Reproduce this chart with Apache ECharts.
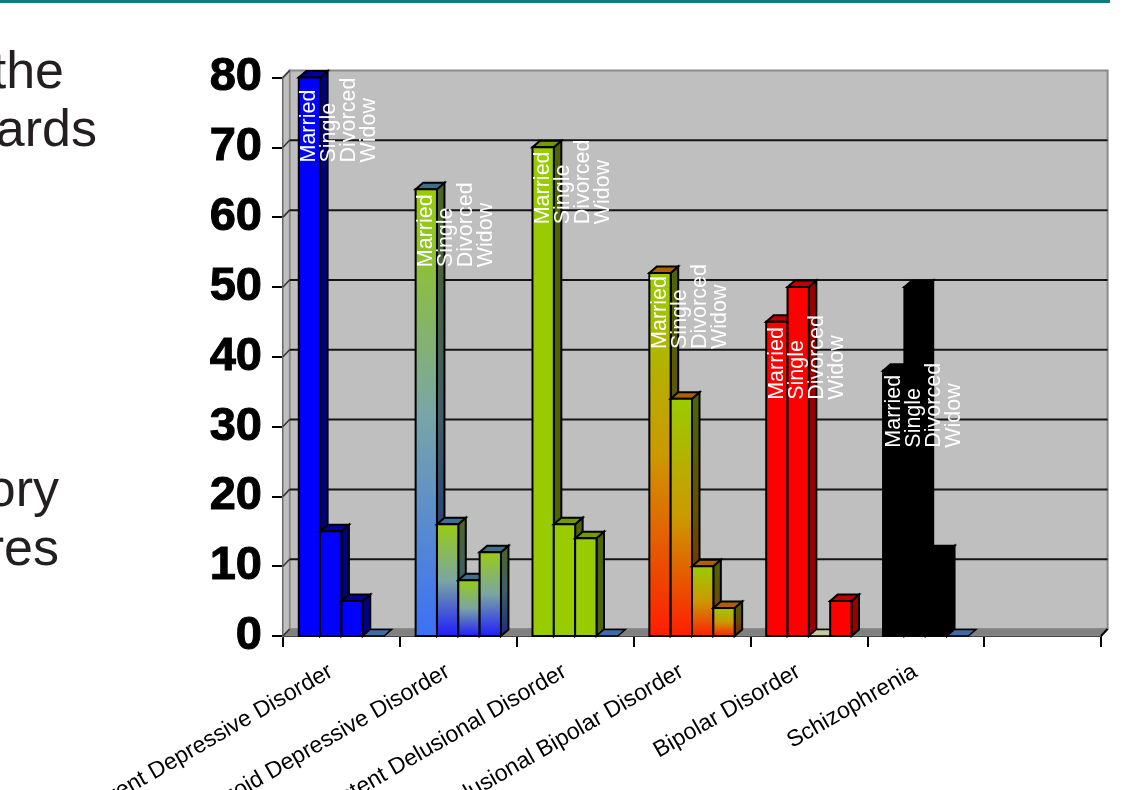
<!DOCTYPE html>
<html>
<head>
<meta charset="utf-8">
<style>
  html, body { margin: 0; padding: 0; background: #fff; overflow: hidden; }
  #chart { width: 1143px; height: 790px; }
</style>
<script src="https://cdn.jsdelivr.net/npm/echarts@6/dist/echarts.min.js"></script>
</head>
<body>
<div id="chart"></div>
<script>
// Diagnosis groups along the category axis (the last slot stays empty).
const categories = [
  'Recurrent Depressive Disorder',
  'Schizoid Depressive Disorder',
  'Persistent Delusional Disorder',
  'Delusional Bipolar Disorder',
  'Bipolar Disorder',
  'Schizophrenia',
  ''
];
const seriesNames = ['Married', 'Single', 'Divorced', 'Widow'];

// Patients per marital status, one entry per diagnosis.
const married  = [80, 64, 70, 52, 45, 38];
const single   = [15, 16, 16, 34, 50, 50];
const divorced = [5, 8, 14, 10, 0, 12];
const widow    = [0, 12, 0, 4, 5, 0];

const yTicks = [0, 10, 20, 30, 40, 50, 60, 70, 80];

// Fill ramps per diagnosis: top, middle, bottom of each bar.
const frontRamps = [
  ['#0000ff', '#0000ff', '#0000ff'],
  ['#99cc11', '#7aa6a2', '#1c1cff'],
  ['#99cc00', '#99cc00', '#99cc00'],
  ['#99cc00', '#cc9900', '#ff1c00'],
  ['#ff0000', '#ff0000', '#ff0000'],
  ['#000000', '#000000', '#000000']
];
const sideRamps = [
  ['#000080', '#000080', '#000080'],
  ['#4d6620', '#3c5f66', '#1a2a80'],
  ['#4d6600', '#4d6600', '#4d6600'],
  ['#4d6600', '#665000', '#802000'],
  ['#990000', '#990000', '#990000'],
  ['#000000', '#000000', '#000000']
];
const capColors = ['#000099', '#3f6f8c', '#739900', '#b06000', '#c00000', '#000000'];
const zeroCapColors = ['#3f6ba8', '#3f6ba8', '#3f6ba8', '#3f6ba8', '#c9c9a0', '#3f6ba8'];
const marriedRamp2 = ['#99cc00', '#78a6a6', '#3a70f8'];

// Plot depth and bar proportions.
const wallDepth = [6.6, -7];
const barDepth = [7.5, -6.5];
const barShare = 0.1825;
const labelDrops = [85, 78, 77, 76, 78, 77];
const labelStep = 20;

const valueRows = [married, single, divorced, widow];
const barData = [];
const labelData = [];
married.forEach(function (_, c) {
  valueRows.forEach(function (row, s) {
    barData.push([c, s, row[c]]);
    labelData.push([c, s, married[c]]);
  });
});

function ramp(colors) {
  return new echarts.graphic.LinearGradient(0, 0, 0, 1, [
    { offset: 0, color: colors[0] },
    { offset: 0.5, color: colors[1] },
    { offset: 1, color: colors[2] }
  ]);
}

function poly(points, fill, stroke, width) {
  return {
    type: 'polygon',
    shape: { points: points },
    style: { fill: fill, stroke: stroke, lineWidth: width, lineJoin: 'miter' }
  };
}

// Draws the three visible faces of one bar from its axis coordinates.
function renderBar(params, api) {
  const c = api.value(0), s = api.value(1), v = api.value(2);
  const base = api.coord([c, 0]);
  const top = api.coord([c, v]);
  const w = api.size([1, 0])[0] * barShare;
  const x0 = base[0] + (s - 2) * w;
  const x1 = x0 + w;
  const dx = barDepth[0], dy = barDepth[1];
  const line = '#000';
  if (v === 0) {
    return poly([[x0, base[1]], [x1, base[1]], [x1 + dx, base[1] + dy], [x0 + dx, base[1] + dy]],
      zeroCapColors[c], line, 1.5);
  }
  const front = (c === 1 && s === 0) ? marriedRamp2 : frontRamps[c];
  return {
    type: 'group',
    children: [
      poly([[x1, top[1]], [x1 + dx, top[1] + dy], [x1 + dx, base[1] + dy], [x1, base[1]]], ramp(sideRamps[c]), line, 2),
      poly([[x0, top[1]], [x1, top[1]], [x1 + dx, top[1] + dy], [x0 + dx, top[1] + dy]], capColors[c], line, 2),
      poly([[x0, top[1]], [x1, top[1]], [x1, base[1]], [x0, base[1]]], ramp(front), line, 2)
    ]
  };
}

// Status names stacked beside each other under the Married bar's top.
function renderLabel(params, api) {
  const c = api.value(0), s = api.value(1), m = api.value(2);
  const base = api.coord([c, 0]);
  const top = api.coord([c, m]);
  const w = api.size([1, 0])[0] * barShare;
  const x = base[0] - 2 * w + w / 2 + s * labelStep;
  return {
    type: 'text',
    x: x,
    y: top[1] + labelDrops[c],
    rotation: Math.PI / 2,
    style: {
      text: seriesNames[s],
      fill: '#fff',
      font: '21.5px "Liberation Sans", Arial, sans-serif',
      textAlign: 'left',
      textVerticalAlign: 'middle'
    }
  };
}

// Back wall, side wall, floor and the gridlines printed on them.
function renderFrame(params, api) {
  const dx = wallDepth[0], dy = wallDepth[1];
  const p0 = api.coord([0, 0]);
  const cs = params.coordSys;
  const left = cs.x, right = cs.x + cs.width;
  const bottom = p0[1], topY = api.coord([0, yTicks[yTicks.length - 1]])[1];
  const kids = [
    poly([[left + dx, topY + dy], [right + dx, topY + dy], [right + dx, bottom + dy], [left + dx, bottom + dy]],
      '#bfbfbf', '#8a8a8a', 2),
    poly([[left, topY], [left + dx, topY + dy], [left + dx, bottom + dy], [left, bottom]], '#bfbfbf', '#8a8a8a', 1.5),
    poly([[left, bottom], [left + dx, bottom + dy], [right + dx, bottom + dy], [right, bottom]], '#808080', '#8a8a8a', 1)
  ];
  yTicks.forEach(function (t) {
    const y = api.coord([0, t])[1];
    if (t !== 0 && t !== yTicks[yTicks.length - 1]) {
      kids.push({
        type: 'line',
        shape: { x1: left + dx, y1: y + dy, x2: right + dx, y2: y + dy },
        style: { stroke: '#141414', lineWidth: 2 }
      });
    }
    kids.push({
      type: 'line',
      shape: { x1: left, y1: y, x2: left + dx, y2: y + dy },
      style: { stroke: '#333', lineWidth: 1.5 }
    });
  });
  kids.push({
    type: 'line',
    shape: { x1: right, y1: bottom, x2: right + dx, y2: bottom + dy },
    style: { stroke: '#000', lineWidth: 2 }
  });
  return { type: 'group', children: kids };
}

const bodyFont = '52px "Liberation Sans", Arial, sans-serif';
function sideText(word, right, baseline) {
  return {
    type: 'text',
    x: right,
    y: baseline,
    z: 5,
    style: { text: word, font: bodyFont, fill: '#231f20', textAlign: 'right', textVerticalAlign: 'bottom' }
  };
}

const chart = echarts.init(document.getElementById('chart'), null, { renderer: 'canvas' });
chart.setOption({
  animation: false,
  backgroundColor: '#ffffff',
  grid: { left: 283, right: 42, top: 77.5, bottom: 154, containLabel: false, outerBoundsMode: 'none' },
  xAxis: {
    type: 'category',
    data: categories,
    boundaryGap: true,
    axisLine: { show: true, onZero: false, lineStyle: { color: '#000', width: 2 } },
    axisTick: { show: true, alignWithLabel: false, length: 11, lineStyle: { color: '#000', width: 2 } },
    axisLabel: {
      rotate: 30,
      interval: 0,
      margin: 28,
      fontSize: 23,
      padding: [0, 12, 0, 0],
      color: '#000',
      fontFamily: '"Liberation Sans", Arial, sans-serif'
    },
    splitLine: { show: false }
  },
  yAxis: {
    type: 'value',
    min: 0,
    max: 80,
    interval: 10,
    axisLine: { show: true, lineStyle: { color: '#000', width: 2 } },
    axisTick: { show: true, length: 11, lineStyle: { color: '#000', width: 2 } },
    axisLabel: {
      margin: 21,
      fontSize: 47,
      fontWeight: 'bold',
      color: '#000',
      textBorderColor: '#000',
      textBorderWidth: 1,
      padding: [11, 0, 0, 0],
      fontFamily: '"Liberation Sans", Arial, sans-serif'
    },
    splitLine: { show: false }
  },
  series: [
    {
      type: 'custom',
      name: 'frame',
      z: 1,
      silent: true,
      clip: false,
      coordinateSystem: 'cartesian2d',
      renderItem: renderFrame,
      data: [[0, 0]],
      encode: { x: 0, y: 1 }
    },
    {
      type: 'custom',
      name: 'bars',
      z: 3,
      clip: false,
      coordinateSystem: 'cartesian2d',
      renderItem: renderBar,
      data: barData,
      encode: { x: 0, y: 2 }
    },
    {
      type: 'custom',
      name: 'labels',
      z: 4,
      clip: false,
      coordinateSystem: 'cartesian2d',
      renderItem: renderLabel,
      data: labelData,
      encode: { x: 0, y: 2 }
    }
  ],
  graphic: [
    { type: 'rect', shape: { x: 0, y: 0, width: 1110, height: 3 }, style: { fill: '#0e7a85' } },
    sideText('the', 64, 100),
    sideText('ards', 97, 158),
    sideText('ory', 59, 518),
    sideText('res', 59, 577)
  ]
});
</script>
</body>
</html>
